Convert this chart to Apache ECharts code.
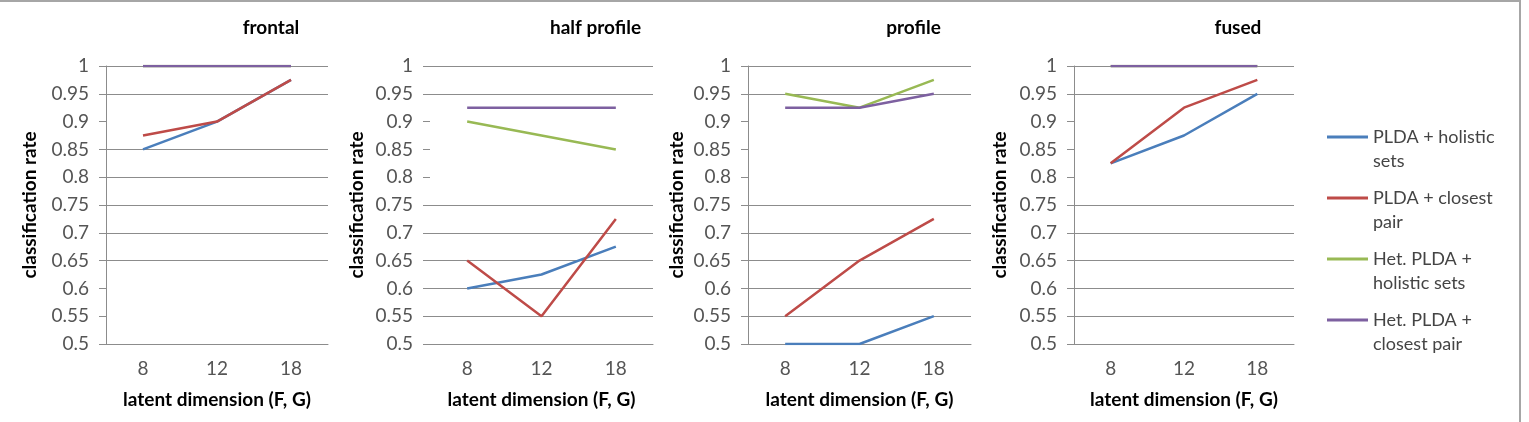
<!DOCTYPE html>
<html>
<head>
    <meta charset="utf-8">
    <title>classification rate</title>
    <script src="https://cdn.jsdelivr.net/npm/echarts@6/dist/echarts.min.js"></script>
    <style>
        body { margin: 0; background: #fff; }
        #chart { width: 1529px; height: 422px; }
    </style>
</head>
<body>
<div id="chart"></div>
<script>
    // latent dimension (F, G)
    var dims = ['8', '12', '18'];
    var seriesNames = ['PLDA + holistic sets', 'PLDA + closest pair', 'Het. PLDA + holistic sets', 'Het. PLDA + closest pair'];
    // leading blank line keeps the first line level with the legend stroke
    var legendLabels = ['\nPLDA + holistic\nsets', '\nPLDA + closest\npair', '\nHet. PLDA +\nholistic sets', '\nHet. PLDA +\nclosest pair'];
    var panelTitles = ['frontal', 'half profile', 'profile', 'fused'];

    // classification rate, one row per method (same order as seriesNames)
    var frontal = [[0.85, 0.9, 0.975], [0.875, 0.9, 0.975], [1, 1, 1], [1, 1, 1]];
    var halfProfile = [[0.6, 0.625, 0.675], [0.65, 0.55, 0.725], [0.9, 0.875, 0.85], [0.925, 0.925, 0.925]];
    var profile = [[0.5, 0.5, 0.55], [0.55, 0.65, 0.725], [0.95, 0.925, 0.975], [0.925, 0.925, 0.95]];
    var fused = [[0.825, 0.875, 0.95], [0.825, 0.925, 0.975], [1, 1, 1], [1, 1, 1]];

    // y ticks, and the gridlines that show up in the picture
    var yTicks = [0.5, 0.55, 0.6, 0.65, 0.7, 0.75, 0.8, 0.85, 0.9, 0.95, 1];
    var frontalGrid = [0.5, 0.65, 0.7, 0.75, 0.8, 0.85, 0.95, 1];
    var otherGrid = [0.5, 0.55, 0.6, 0.65, 0.7, 0.75, 0.95, 1];

    var colors = ['#4a7ebb', '#be4b48', '#98b954', '#7d60a0'];
    var font = 'Lato';
    var gray = '#8c8c8c';

    var panels = [frontal, halfProfile, profile, fused];
    var gridLines = [frontalGrid, otherGrid, otherGrid, otherGrid];
    var nameGaps = [67, 64, 62, 65];
    var grids = [
        {left: 106, top: 66, width: 222, height: 278},
        {left: 430, top: 66, width: 223, height: 278},
        {left: 748, top: 66, width: 223, height: 278},
        {left: 1074, top: 66, width: 220, height: 278}
    ];

    var titles = [], xAxes = [], yAxes = [], series = [];
    for (let i = 0; i < panels.length; i++) {
        var g = grids[i];
        // one colour per split line (from min up), blank where the picture has none
        var lineColors = yTicks.map(function (v) {
            return gridLines[i].indexOf(v) >= 0 ? gray : 'rgba(0,0,0,0)';
        });
        titles.push({
            text: panelTitles[i],
            left: g.left + g.width / 2 + 54 - 5,
            top: 13,
            textAlign: 'center',
            textStyle: {fontFamily: font, fontSize: 19, fontWeight: 'bold', color: '#000'}
        });
        xAxes.push({
            gridIndex: i,
            type: 'category',
            data: dims,
            name: 'latent dimension (F, G)',
            nameLocation: 'middle',
            nameGap: 46,
            nameTextStyle: {fontFamily: font, fontSize: 19, fontWeight: 'bold', color: '#000'},
            axisLine: {lineStyle: {color: gray, width: 1}},
            axisTick: {length: 6, lineStyle: {color: gray}},
            axisLabel: {margin: 15, fontFamily: font, fontSize: 19, color: '#555'}
        });
        yAxes.push({
            gridIndex: i,
            type: 'value',
            min: 0.5,
            max: 1,
            interval: 0.05,
            name: 'classification rate',
            nameLocation: 'middle',
            nameGap: nameGaps[i],
            nameTextStyle: {fontFamily: font, fontSize: 19, fontWeight: 'bold', color: '#000'},
            axisLine: {show: i !== 1, lineStyle: {color: gray, width: 1}},
            axisTick: {show: true, length: 7, lineStyle: {color: gray}},
            axisLabel: {margin: 17, fontFamily: font, fontSize: 19, color: '#555'},
            splitLine: {show: true, lineStyle: {color: lineColors, width: 1}}
        });
        for (let s = 0; s < seriesNames.length; s++) {
            series.push({
                name: seriesNames[s],
                type: 'line',
                xAxisIndex: i,
                yAxisIndex: i,
                data: panels[i][s],
                symbol: 'none',
                lineStyle: {width: 2.5, color: colors[s]},
                itemStyle: {color: colors[s]}
            });
        }
    }

    var myChart = echarts.init(document.getElementById('chart'));
    myChart.setOption({
        animation: false,
        backgroundColor: '#fff',
        title: titles,
        grid: grids,
        xAxis: xAxes,
        yAxis: yAxes,
        legend: {
            orient: 'vertical',
            left: 1327,
            top: 101,
            padding: 0,
            icon: 'rect',
            itemWidth: 41,
            itemHeight: 3,
            itemGap: -11,
            data: seriesNames,
            formatter: function (name) {
                return legendLabels[seriesNames.indexOf(name)];
            },
            textStyle: {fontFamily: font, fontSize: 18, color: '#444', lineHeight: 24}
        },
        graphic: [{
            type: 'rect',
            shape: {x: -3, y: 1, width: 1523, height: 430},
            style: {fill: 'none', stroke: '#a6a6a6', lineWidth: 2},
            silent: true
        }],
        series: series
    });
</script>
</body>
</html>
